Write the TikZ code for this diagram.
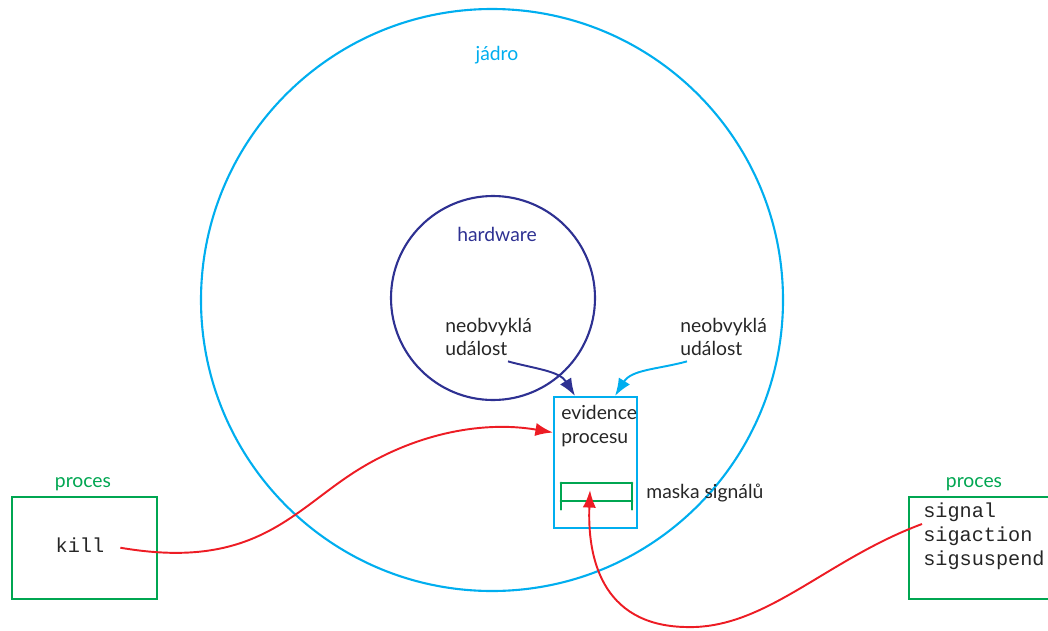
\documentclass[tikz,border=0pt]{standalone}
\usepackage{fontspec}
\setmainfont{Lato}
\setmonofont{Liberation Mono}
\usetikzlibrary{arrows.meta,positioning,calc}
\definecolor{kcyan}{RGB}{0,174,239}
\definecolor{hwblue}{RGB}{46,49,146}
\definecolor{pgreen}{RGB}{0,166,81}
\definecolor{sigred}{RGB}{237,28,36}

\begin{document}
\begin{tikzpicture}[
  font=\fontsize{11}{13.5}\selectfont,
  ring/.style={circle, draw=#1, line width=1.2pt, inner sep=0pt},
  lbl/.style={text=#1, inner sep=0pt},
  txt/.style={align=left, inner sep=0pt, text=black!85},
  pbox/.style={draw=pgreen, line width=1.2pt, line cap=round, inner sep=0pt, minimum height=2.04cm},
  arr/.style={-{Latex[length=10pt,width=7.5pt]}, line width=1.1pt, draw=#1}]
\useasboundingbox (0,0) rectangle (20.96,12.6);
% kernel and hardware
\node[ring=kcyan, minimum size=11.64cm] (jadro) at (9.84,6.6) {};
\node[lbl=kcyan] (jadrolbl) at (9.94,11.5) {jádro};
\node[ring=hwblue, minimum size=4.08cm] (hw) at (9.86,6.64) {};
\node[lbl=hwblue] (hwlbl) at (9.94,7.92) {hardware};
\node[txt, anchor=west] (ev1) at (8.9,5.86) {neobvyklá\\událost};
\node[txt, anchor=west] (ev2) at (13.6,5.86) {neobvyklá\\událost};
% process table entry
\node[draw=kcyan, line width=1.2pt, minimum width=1.66cm, minimum height=2.62cm, inner sep=0pt] (evid) at (11.91,3.35) {};
\node[txt, anchor=west] (evidlbl) at (11.22,4.08) {evidence\\procesu};
\node[minimum width=1.42cm, minimum height=0.36cm, inner sep=0pt] (mask) at (11.93,2.76) {};
\draw[pgreen, line width=1.2pt, line cap=round]
  (mask.north west) -- (mask.north east)
  (mask.south west) -- (mask.south east)
  (mask.north west) -- ++(0,-0.54) (mask.north east) -- ++(0,-0.54);
\node[txt, anchor=west] (masklbl) at (12.92,2.74) {maska signálů};
% user processes
\node[pbox, minimum width=2.9cm] (p1) at (1.69,1.64) {};
\node[lbl=pgreen] (p1lbl) at (1.66,2.92) {proces};
\node[txt, font=\ttfamily\fontsize{11.5}{13.5}\selectfont] (kill) at (1.6,1.7) {kill};
\node[pbox, minimum width=3.2cm, anchor=west] (p2) at (18.16,1.64) {};
\node[lbl=pgreen] (p2lbl) at (19.48,2.92) {proces};
\node[txt, anchor=north west, font=\ttfamily\fontsize{11.5}{13.6}\selectfont] (sigs) at (18.46,2.55) {signal\\sigaction\\sigsuspend};
\coordinate (sigout) at (18.44,2.12);
\coordinate (maskin) at (11.8,2.8);
% connectors
\draw[arr=hwblue] ($(ev1.south west)+(1.26,-0.1)$) to[out=-15, in=122] ($(evid.north)+(-0.41,0)$);
\draw[arr=kcyan] ($(ev2.south west)+(0.14,-0.1)$) to[out=195, in=58] ($(evid.north)+(0.39,0)$);
\draw[arr=sigred, shorten <=0.32cm] (kill.east) .. controls (5,1.2) and (5.8,2.3) .. (7,3.1)
  .. controls (8.2,3.9) and (9.6,4.2) .. ($(evid.west)+(0,0.6)$);
\draw[arr=sigred] (sigout) .. controls (16.5,1.4) and (15.3,0) .. (13.7,0.06)
  .. controls (12,0.1) and (11.75,1.5) .. (maskin);
\end{tikzpicture}
\end{document}
